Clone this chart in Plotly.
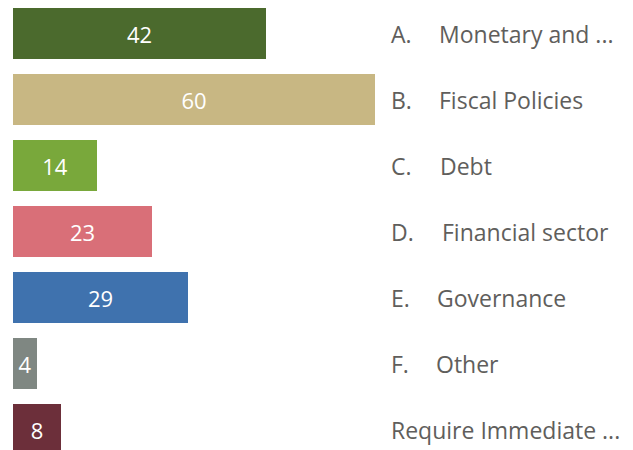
import plotly.graph_objs as go

prefixes = ["A.", "B.", "C.", "D.", "E.", "F.", ""]
names = ["Monetary and ...", "Fiscal Policies", "Debt", "Financial sector",
         "Governance", "Other", "Require Immediate ..."]
values = [42, 60, 14, 23, 29, 4, 8]
colors = ["#4b6a2d", "#c8b783", "#79a83b", "#d96f78", "#3f72ae", "#7f8782", "#6c2f3a"]

# page has an 8px body margin, so work in figure coordinates
offset = 8
W, H = 633 - offset, 450 - offset
px_per_unit = 362 / 60.0
left = 13 - offset
row_h = 66.0
first_center = 33.5 - offset

rows = list(range(len(values)))

fig = go.Figure()
fig.add_trace(
    go.Bar(
        x=values,
        y=rows,
        orientation="h",
        marker=dict(color=colors, line=dict(width=0)),
        width=51 / row_h,
        text=[str(v) for v in values],
        textposition="inside",
        insidetextanchor="middle",
        constraintext="none",
        textfont=dict(color="white", size=22, family="Open Sans"),
        hoverinfo="skip",
    )
)

plot_w = W - left
x_max = plot_w / px_per_unit
y_top = -first_center / row_h
y_bot = y_top + H / row_h


def to_x(page_px):
    # annotations add ~3px of padding before the text
    return (page_px - 3 - offset - left) / px_per_unit


prefix_x = to_x(392)
name_x = [to_x(p) for p in (440, 440, 441, 443, 438, 437, 392)]

for i in rows:
    if prefixes[i]:
        fig.add_annotation(x=prefix_x, y=i, text=prefixes[i], showarrow=False,
                           xanchor="left", yanchor="middle", xref="x", yref="y",
                           font=dict(color="#605e5c", size=23, family="Open Sans"))
    fig.add_annotation(x=name_x[i], y=i, text=names[i], showarrow=False,
                       xanchor="left", yanchor="middle", xref="x", yref="y",
                       font=dict(color="#605e5c", size=23, family="Open Sans"))

fig.update_layout(
    width=W,
    height=H,
    margin=dict(l=left, r=0, t=0, b=0),
    paper_bgcolor="white",
    plot_bgcolor="white",
    showlegend=False,
    bargap=0,
)
fig.update_xaxes(range=[0, x_max], visible=False, fixedrange=True)
fig.update_yaxes(range=[y_bot, y_top], visible=False, fixedrange=True)

fig.write_html("out.html", config={"displayModeBar": False})
